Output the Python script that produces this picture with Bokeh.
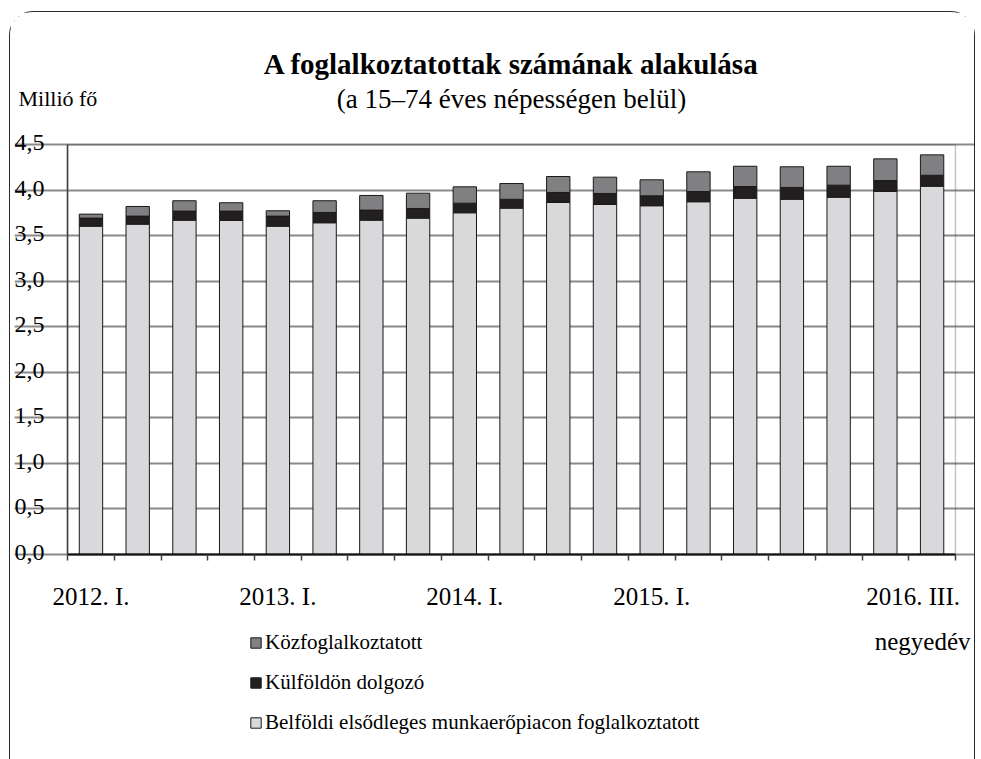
from bokeh.plotting import figure
from bokeh.models import (FixedTicker, CustomJSTickFormatter, Range1d, Label, BoxAnnotation,
                          Legend, LegendItem, ColumnDataSource)
from bokeh.embed import file_html
from bokeh.resources import INLINE

# ---- data (million persons, 15-74 year-olds) ----
quarters = ["2012. I.", "2012. II.", "2012. III.", "2012. IV.",
            "2013. I.", "2013. II.", "2013. III.", "2013. IV.",
            "2014. I.", "2014. II.", "2014. III.", "2014. IV.",
            "2015. I.", "2015. II.", "2015. III.", "2015. IV.",
            "2016. I.", "2016. II.", "2016. III."]
belfoldi = [3.605, 3.627, 3.671, 3.668, 3.605, 3.642, 3.671, 3.693, 3.752, 3.803,
            3.865, 3.843, 3.829, 3.873, 3.912, 3.901, 3.923, 3.986, 4.044]
kulfoldon = [0.088, 0.088, 0.099, 0.102, 0.110, 0.113, 0.110, 0.106, 0.105, 0.097,
             0.110, 0.121, 0.109, 0.112, 0.128, 0.129, 0.132, 0.120, 0.120]
kozfoglalkoztatott = [0.044, 0.106, 0.114, 0.092, 0.059, 0.129, 0.161, 0.168, 0.180, 0.173,
                      0.175, 0.179, 0.176, 0.217, 0.223, 0.227, 0.208, 0.238, 0.224]
series_names = ["Belföldi elsődleges munkaerőpiacon foglalkoztatott",
                "Külföldön dolgozó", "Közfoglalkoztatott"]
labelled_quarters = ["2012. I.", "2013. I.", "2014. I.", "2015. I.", "2016. III."]
y_ticks = [0.0, 0.5, 1.0, 1.5, 2.0, 2.5, 3.0, 3.5, 4.0, 4.5]
y_max = 4.5

title_text = "A foglalkoztatottak számának alakulása"
subtitle_text = "(a 15–74 éves népességen belül)"
y_unit_text = "Millió fő"
x_unit_text = "negyedév"

# ---- styling / layout (page pixels) ----
FONT = "Liberation Serif"
colors = ["#d9d9db", "#231f20", "#808082"]
FIG_W, FIG_H = 966, 748
MARGIN_TOP, MARGIN_LEFT, BORDER = 11, 9, 1
MB_L, MB_R, MB_T, MB_B = 4, 1, 4, 12
CANVAS_X0, CANVAS_Y0 = MARGIN_LEFT + BORDER, MARGIN_TOP + BORDER
CANVAS_W, CANVAS_H = FIG_W - 2 * BORDER, FIG_H - BORDER
FL, FR = CANVAS_X0 + MB_L, CANVAS_X0 + CANVAS_W - MB_R       # frame edges
FT, FB = CANVAS_Y0 + MB_T, CANVAS_Y0 + CANVAS_H - MB_B
CL, CR, CT, CB = 67, 953, 144, 553                            # bar-chart box

n = len(quarters)
ppx = (CR - CL) / n
ppy = (CB - CT) / y_max


def dx(px):
    return (px - CL) / ppx


def dy(py):
    return (CB - py) / ppy


xs = [i + 0.5 for i in range(n)]
source = ColumnDataSource(dict(x=xs, q=quarters, b=belfoldi, k=kulfoldon, z=kozfoglalkoztatott))

p = figure(width=FIG_W, height=FIG_H, output_backend="svg", toolbar_location=None, title=None,
           x_range=Range1d(dx(FL), dx(FR)), y_range=Range1d(dy(FB), dy(FT)),
           min_border_left=MB_L, min_border_right=MB_R, min_border_top=MB_T,
           min_border_bottom=MB_B)
p.margin = (MARGIN_TOP, 0, 0, MARGIN_LEFT)
p.outline_line_color = None
p.background_fill_color = "white"
p.border_fill_color = "white"

# grid lines only across the chart box (drawn under the bars)
p.xgrid.grid_line_color = None
p.ygrid.ticker = FixedTicker(ticks=y_ticks)
p.ygrid.bounds = (0, n)
p.ygrid.grid_line_color = "#8a8a8a"
p.ygrid.grid_line_width = 2

renderers = p.vbar_stack(["b", "k", "z"], x="x", width=0.5, source=source,
                         fill_color=colors, line_color="#1a1a1a", line_width=1)

# chart box
p.add_layout(BoxAnnotation(left=0, right=n, bottom=0, top=y_max, fill_alpha=0,
                           line_color="#404040", line_width=1.5))

# y axis (line at x=0), tick labels as text
p.yaxis.fixed_location = 0
p.yaxis.bounds = (0, y_max)
p.yaxis.ticker = FixedTicker(ticks=[])
p.yaxis.formatter = CustomJSTickFormatter(code="return '';")
p.yaxis.major_tick_out = 0
p.yaxis.major_tick_in = 0
p.yaxis.minor_tick_out = 0
p.yaxis.minor_tick_in = 0
p.yaxis.major_label_standoff = 0
p.yaxis.axis_line_color = "#404040"
p.yaxis.axis_line_width = 1.5
for t in y_ticks:
    p.add_layout(Label(x=0, y=t, text=f"{t:.1f}".replace(".", ","), text_align="right",
                       text_baseline="middle", x_offset=-23, y_offset=2,
                       text_font=FONT, text_font_size="24px", text_color="black"))

# x axis (line at y=0) with ticks on category boundaries
p.xaxis.fixed_location = 0
p.xaxis.bounds = (0, n)
p.xaxis.ticker = FixedTicker(ticks=list(range(n + 1)), minor_ticks=[])
p.xaxis.formatter = CustomJSTickFormatter(code="return '';")
p.xaxis.major_tick_out = 6
p.xaxis.major_tick_in = 0
p.xaxis.major_tick_line_color = "#404040"
p.xaxis.major_tick_line_width = 1.5
p.xaxis.minor_tick_out = 0
p.xaxis.minor_tick_in = 0
p.xaxis.major_label_standoff = 0
p.xaxis.axis_line_color = "black"
p.xaxis.axis_line_width = 2

LAST_LABEL_SHIFT = -19   # px, keeps the last category label inside the box
for q in labelled_quarters:
    i = quarters.index(q)
    p.add_layout(Label(x=xs[i], y=0, text=q, text_align="center", text_baseline="alphabetic",
                       x_offset=LAST_LABEL_SHIFT if i == n - 1 else 0, y_offset=-42,
                       text_font=FONT, text_font_size="25px", text_color="black"))

# titles and unit labels
p.add_layout(Label(x=n / 2, y=dy(63), text=title_text, text_align="center",
                   text_baseline="alphabetic", text_font=FONT, text_font_size="29px",
                   text_font_style="bold", text_color="black"))
p.add_layout(Label(x=n / 2, y=dy(98), text=subtitle_text, text_align="center",
                   text_baseline="alphabetic", text_font=FONT, text_font_size="27px",
                   text_color="black"))
p.add_layout(Label(x=dx(18), y=dy(98), text=y_unit_text, text_align="left",
                   text_baseline="alphabetic", text_font=FONT, text_font_size="22px",
                   text_color="black"))
p.add_layout(Label(x=dx(968), y=dy(640), text=x_unit_text, text_align="right",
                   text_baseline="alphabetic", text_font=FONT, text_font_size="25px",
                   text_color="black"))

# legend (top to bottom: Közfoglalkoztatott, Külföldön dolgozó, Belföldi ...)
items = [LegendItem(label=series_names[j], renderers=[renderers[j]]) for j in (2, 1, 0)]
legend = Legend(items=items, location=(249 - FL, FB - 734), orientation="vertical",
                glyph_width=13, glyph_height=13, label_standoff=3, spacing=15,
                padding=0, margin=0, border_line_color=None, background_fill_alpha=0,
                label_text_font=FONT, label_text_font_size="21px", label_text_color="black")
p.add_layout(legend, "center")

p.styles = {"border": f"{BORDER}px solid #2a2a2a", "border-bottom": "none",
            "border-radius": "24px 24px 0 0"}

open("out.html", "w").write(file_html(p, INLINE))
